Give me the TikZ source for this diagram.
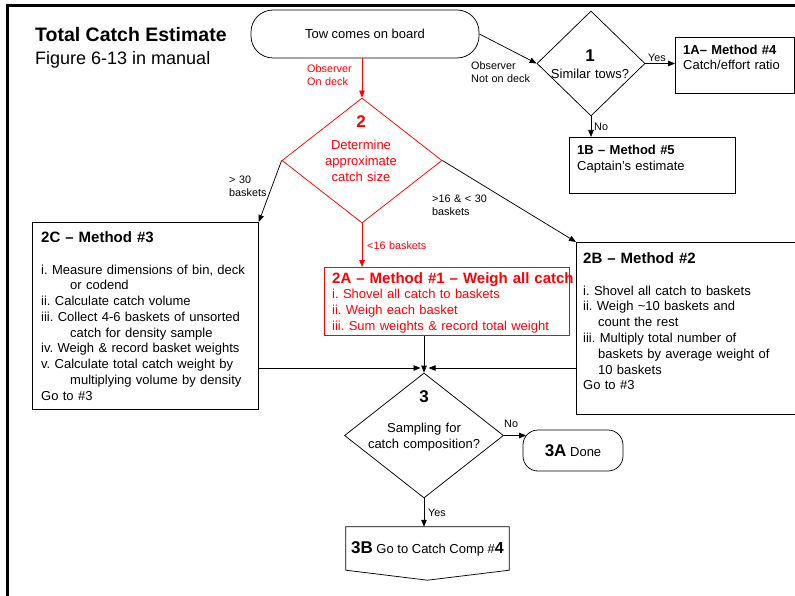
\documentclass[tikz,border=0pt]{standalone}
\usepackage{fontspec}
\setmainfont{Liberation Sans}
\usetikzlibrary{arrows.meta,shapes.geometric,calc}
\definecolor{rd}{RGB}{255,0,0}
\frenchspacing
\tikzset{
  ln/.style={line width=0.75pt, draw=black},
  arr/.style={ln, -{Triangle[length=7pt,width=5.5pt]}},
  rarr/.style={arr, draw=rd, fill=rd},
  box/.style={draw, line width=0.75pt, inner sep=0pt, anchor=north west},
  dia/.style={diamond, draw, line width=0.75pt, inner sep=0pt},
  body/.style={inner sep=0pt, anchor=base west, text width=#1, align=left},
  body/.default=240pt,
  lbl/.style={inner sep=0pt, anchor=base west, text width=80pt, align=left, font=\fontsize{10.8}{13}\selectfont},
  num/.style={inner sep=0pt, anchor=base, font=\bfseries\fontsize{17}{20}\selectfont},
  ctr/.style={inner sep=0pt, anchor=base, text width=150pt, align=center, font=\fontsize{13}{16}\selectfont},
}
\begin{document}
\begin{tikzpicture}[x=1pt,y=-1pt]
\useasboundingbox (0,0) rectangle (795,596);
% frame
\draw[line width=3pt] (7.5,596) -- (7.5,5.5) -- (795,5.5);

% title
\node[inner sep=0pt, anchor=base west, font=\bfseries\fontsize{19.5}{23}\selectfont] (title) at (35,42) {Total Catch Estimate};
\node[inner sep=0pt, anchor=base west, font=\fontsize{18}{22}\selectfont] (sub) at (35,65) {Figure 6-13 in manual};

% start
\node[draw, line width=0.75pt, rounded corners=22pt, minimum width=228pt, minimum height=48pt, font=\fontsize{13}{16}\selectfont] (start) at (365,34) {Tow comes on board};

% decision 1
\node[dia, minimum width=108pt, minimum height=105pt] (d1) at (591,63.5) {};
\node[num] (d1n) at (590,62) {1};
\node[ctr] (d1t) at (590,79) {Similar tows?};

% 1A
\node[box, minimum width=119pt, minimum height=56pt] (a1) at (675,37) {};
\node[body=110pt, font=\fontsize{13}{15.5}\selectfont] (a1t) at (683,54.5) {\textbf{1A– Method \#4}\\Catch/effort ratio};

% 1B
\node[box, minimum width=166pt, minimum height=56pt] (b1) at (569,137) {};
\node[body=150pt, font=\fontsize{13}{16.5}\selectfont] (b1t) at (577,154.5) {\textbf{1B – Method \#5}\\Captain’s estimate};

% decision 2
\node[dia, draw=rd, minimum width=160pt, minimum height=125pt] (d2) at (362,160.5) {};
\node[num, text=rd] (d2n) at (361,128) {2};
\node[ctr, text=rd] (d2t) at (361,150) {Determine\\approximate\\catch size};

% 2C
\node[box, minimum width=226pt, minimum height=187pt] (c2) at (32,222) {};
\node[body, font=\bfseries\fontsize{15}{18}\selectfont] (c2h) at (41,242) {2C – Method \#3};
\node[body=215pt, font=\fontsize{13}{15.75}\selectfont] (c2t) at (41,274) {i. Measure dimensions of bin, deck\\
\hspace*{29pt}or codend\\
ii. Calculate catch volume\\
iii. Collect 4-6 baskets of unsorted\\
\hspace*{29pt}catch for density sample\\
iv. Weigh \& record basket weights\\
v. Calculate total catch weight by\\
\hspace*{29pt}multiplying volume by density\\
Go to \#3};

% 2A
\node[box, draw=rd, minimum width=245pt, minimum height=68pt] (a2) at (324,267) {};
\node[body=260pt, text=rd, font=\bfseries\fontsize{15}{18}\selectfont] (a2h) at (332,283) {2A – Method \#1 – Weigh all catch};
\node[body=240pt, text=rd, font=\fontsize{13}{16.3}\selectfont] (a2t) at (332,298) {i. Shovel all catch to baskets\\
ii. Weigh each basket\\
iii. Sum weights \& record total weight};

% 2B
\node[box, minimum width=222pt, minimum height=172pt] (b2) at (576,242) {};
\node[body, font=\bfseries\fontsize{15}{18}\selectfont] (b2h) at (583,263) {2B – Method \#2};
\node[body=210pt, font=\fontsize{13}{15.83}\selectfont] (b2t) at (583,295) {i. Shovel all catch to baskets\\
ii. Weigh \textasciitilde10 baskets and\\
\hspace*{15pt}count the rest\\
iii. Multiply total number of\\
\hspace*{15pt}baskets by average weight of\\
\hspace*{15pt}10 baskets\\
Go to \#3};

% decision 3
\node[dia, minimum width=159pt, minimum height=125pt] (d3) at (424,435.5) {};
\node[num] (d3n) at (424,402) {3};
\node[ctr] (d3t) at (424,432) {Sampling for\\catch composition?};

% 3A
\node[draw, line width=0.75pt, rounded corners=15pt, minimum width=100pt, minimum height=41pt, inner sep=0pt, font=\fontsize{13}{16}\selectfont] (a3) at (573,450.5) {{\bfseries\fontsize{17}{20}\selectfont 3A} Done};

% 3B
\node[minimum width=163pt, minimum height=43pt, inner sep=0pt, font=\fontsize{13}{16}\selectfont] (b3) at (427.5,548.5) {{\bfseries\fontsize{17}{20}\selectfont 3B} Go to Catch Comp \#{\bfseries\fontsize{16}{20}\selectfont 4}};
\draw[ln] (b3.north west) -- (b3.north east) -- (b3.south east) -- ($(b3.south)+(0,10)$) -- (b3.south west) -- cycle;

% connectors
\draw[arr] (start.east) -- (d1.west);
\draw[rarr] (start.south -| d2.north) -- (d2.north);
\draw[arr] (d1.east) -- (d1.east -| a1.west);
\draw[arr] (d1.south) -- (d1.south |- b1.north);
\draw[arr] (d2.west) -- (c2.north east);
\draw[arr] (d2.east) -- (b2.north west);
\draw[rarr] (d2.south) -- (d2.south |- a2.north);
\draw[arr] (a2.south -| d3.north) -- (d3.north);
\coordinate (jl) at (420.5,368);
\coordinate (jr) at (428.5,368);
\draw[arr] (c2.east |- jl) -- (jl);
\draw[arr] (b2.west |- jr) -- (jr);
\draw[arr] (d3.east) -- ([xshift=3.5pt]d3.east -| a3.west);
\draw[arr] (d3.south) -- (d3.south |- b3.north);

% connector labels
\node[lbl, text=rd] (l1) at (307,73) {Observer\\On deck};
\node[lbl] (l2) at (471,70) {Observer\\Not on deck};
\node[lbl] (l3) at (648,62) {Yes};
\node[lbl] (l4) at (594,131) {No};
\node[lbl] (l5) at (229,184) {> 30\\baskets};
\node[lbl] (l6) at (432,203) {>16 \& < 30\\baskets};
\node[lbl, text=rd] (l7) at (367,250) {<16 baskets};
\node[lbl] (l8) at (504,427) {No};
\node[lbl] (l9) at (428,516) {Yes};
\end{tikzpicture}
\end{document}
